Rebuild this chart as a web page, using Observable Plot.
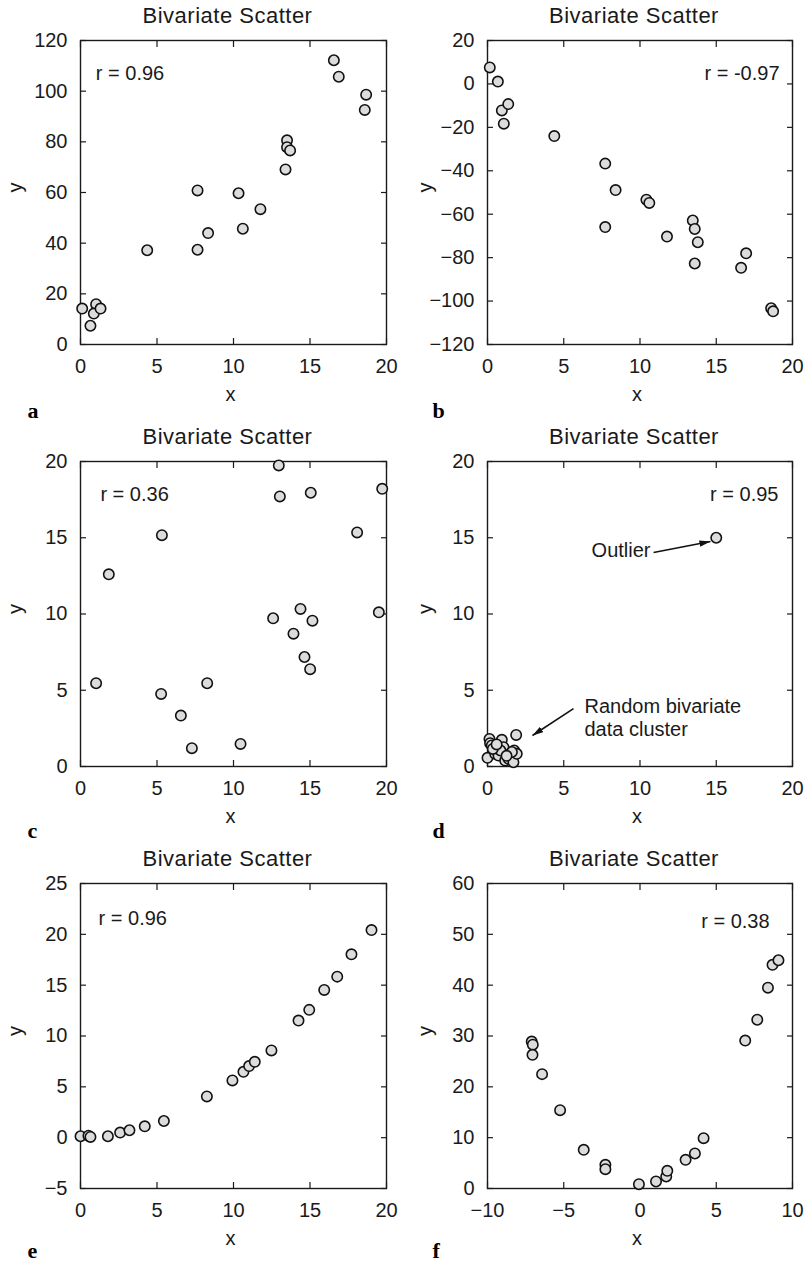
<!DOCTYPE html>
<html><head><meta charset="utf-8">
<script src="https://cdn.jsdelivr.net/npm/d3@7"></script>
<script src="https://cdn.jsdelivr.net/npm/@observablehq/plot@0.6"></script>
<style>
body{margin:0;background:#fff;}
#wrap{position:relative;width:807px;height:1264px;overflow:hidden;}
.panel{position:absolute;}
</style></head><body><div id="wrap"></div>
<script>
// ---- data ----
const titleText = "Bivariate Scatter";
const panelLetters = ["a", "b", "c", "d", "e", "f"];
const rLabels = ["r = 0.96", "r = -0.97", "r = 0.36", "r = 0.95", "r = 0.96", "r = 0.38"];

const aX = [0.11, 0.65, 1.02, 0.87, 1.31, 4.36, 7.65, 7.65, 8.34, 10.33, 10.61, 11.76, 13.4, 13.5, 13.5, 13.7, 16.56, 16.88, 18.67, 18.58];
const aY = [14.2, 7.4, 15.9, 12.2, 14.2, 37.2, 60.8, 37.4, 44.0, 59.7, 45.7, 53.4, 69.1, 80.6, 77.9, 76.6, 112.2, 105.7, 98.6, 92.6];

const bX = [0.15, 0.68, 0.94, 1.36, 1.07, 4.38, 7.72, 8.40, 7.72, 10.42, 10.61, 11.77, 13.46, 13.59, 13.79, 13.59, 16.63, 16.96, 18.6, 18.73];
const bY = [7.6, 1.1, -12.2, -9.3, -18.3, -24.0, -36.7, -48.9, -65.9, -53.3, -54.8, -70.3, -62.9, -66.8, -72.9, -82.7, -84.7, -78.0, -103.3, -104.7];

const cX = [1.02, 1.85, 5.32, 5.27, 6.56, 7.28, 8.28, 10.46, 12.59, 12.96, 13.03, 13.92, 14.38, 14.64, 15.01, 15.16, 15.05, 18.08, 19.72, 19.50];
const cY = [5.46, 12.6, 15.17, 4.76, 3.34, 1.20, 5.46, 1.48, 9.72, 19.74, 17.71, 8.71, 10.33, 7.18, 6.38, 9.56, 17.95, 15.35, 18.21, 10.11];

const dX = [0.0, 0.13, 0.17, 0.28, 0.5, 0.72, 0.94, 1.05, 0.85, 1.16, 1.38, 1.49, 1.7, 1.75, 1.92, 1.88, 0.35, 1.6, 1.25, 0.6, 15];
const dY = [0.57, 1.81, 1.53, 1.38, 0.83, 0.72, 1.75, 1.27, 1.05, 0.39, 0.5, 0.83, 0.28, 1.05, 0.83, 2.07, 1.15, 0.95, 0.7, 1.45, 15];

const eX = [0, 0.52, 0.65, 1.79, 2.59, 3.2, 4.2, 5.45, 8.26, 9.93, 10.65, 11.02, 11.39, 12.48, 14.25, 14.95, 15.93, 16.78, 17.71, 19.02];
const eY = [0.14, 0.2, 0.07, 0.14, 0.5, 0.73, 1.12, 1.64, 4.06, 5.63, 6.48, 7.04, 7.46, 8.58, 11.52, 12.57, 14.53, 15.84, 18.03, 20.42];

const fX = [-7.10, -7.03, -7.05, -6.42, -5.24, -3.69, -2.27, -2.27, -0.07, 1.05, 1.72, 1.79, 2.99, 3.60, 4.17, 6.90, 7.69, 8.39, 8.69, 9.08];
const fY = [28.9, 28.3, 26.3, 22.5, 15.4, 7.6, 4.66, 3.8, 0.85, 1.38, 2.36, 3.48, 5.64, 6.89, 9.9, 29.1, 33.2, 39.5, 44.0, 44.9];

const xTicks20 = [0, 5, 10, 15, 20];
const xTicksF = [-10, -5, 0, 5, 10];
const yTicksA = [0, 20, 40, 60, 80, 100, 120];
const yTicksB = [-120, -100, -80, -60, -40, -20, 0, 20];
const yTicksC = [0, 5, 10, 15, 20];
const yTicksE = [-5, 0, 5, 10, 15, 20, 25];
const yTicksF = [0, 10, 20, 30, 40, 50, 60];

// annotation anchors (data coords) for the r labels
const rPos = [[1.0, 104.6, "start"], [19.15, 2.0, "end"], [1.3, 17.44, "start"], [19.08, 17.44, "end"], [1.18, 20.87, "start"], [8.5, 51.3, "end"]];

// panel d annotations
const outlierLabel = "Outlier";
const clusterLabel = "Random bivariate\ndata cluster";
const dArrows = [
  {x1: 10.89, y1: 14.03, x2: 14.62, y2: 14.75},
  {x1: 5.64, y1: 3.8, x2: 2.95, y2: 2.03}
];

// ---- layout ----
const COLS = [
  {left: 0, width: 400, ml: 80, mr: 14, ldx: -53, ydx: -65},
  {left: 400, width: 407, ml: 87, mr: 15, ldx: -55, ydx: -62}
];
const ROWS = [
  {top: 0, height: 420, mt: 40, mb: 76, ldy: 73},
  {top: 420, height: 420, mt: 41, mb: 74, ldy: 71},
  {top: 840, height: 424, mt: 43, mb: 76, ldy: 69}
];

const FONT = "'Liberation Sans', Arial, Helvetica, sans-serif";
const INK = "#1a1a1a";

// filled arrowhead marker
function filledArrow(color, context) {
  const doc = (context && context.document) || document;
  const NS = "http://www.w3.org/2000/svg";
  const m = doc.createElementNS(NS, "marker");
  m.setAttribute("viewBox", "-11 -3.5 11 7");
  m.setAttribute("markerWidth", 11);
  m.setAttribute("markerHeight", 7);
  m.setAttribute("markerUnits", "userSpaceOnUse");
  m.setAttribute("orient", "auto");
  m.setAttribute("refX", 0);
  m.setAttribute("refY", 0);
  const p = doc.createElementNS(NS, "path");
  p.setAttribute("d", "M-11,-3.2L0,0L-11,3.2Z");
  p.setAttribute("fill", "#111");
  p.setAttribute("stroke", "none");
  m.appendChild(p);
  return m;
}
function arrowMark() {
  try {
    return Plot.link(dArrows, {x1: "x1", y1: "y1", x2: "x2", y2: "y2", stroke: "#111", strokeWidth: 1.6, markerEnd: filledArrow});
  } catch (e) {
    return Plot.arrow(dArrows, {x1: "x1", y1: "y1", x2: "x2", y2: "y2", stroke: "#111", strokeWidth: 1.6, headLength: 11, headAngle: 32});
  }
}

function panel(i, xs, ys, xDomain, yDomain, xTicks, yTicks, extra = []) {
  const C = COLS[i % 2], R = ROWS[Math.floor(i / 2)];
  const pts = xs.map((x, k) => ({x, y: ys[k]}));
  const [rx, ry, ra] = rPos[i];
  const plot = Plot.plot({
    width: C.width, height: R.height,
    marginLeft: C.ml, marginRight: C.mr, marginTop: R.mt, marginBottom: R.mb,
    style: {fontFamily: FONT, fontSize: "20px", color: INK, background: "transparent", overflow: "visible"},
    x: {domain: xDomain, label: null},
    y: {domain: yDomain, label: null},
    marks: [
      Plot.axisX(xTicks, {anchor: "bottom", tickSize: -6, tickPadding: 20, label: null, strokeWidth: 1.2}),
      Plot.axisX(xTicks, {anchor: "top", tickSize: -6, tickFormat: () => "", label: null, strokeWidth: 1.2}),
      Plot.axisY(yTicks, {anchor: "left", tickSize: -6, tickPadding: 19, label: null, strokeWidth: 1.2}),
      Plot.axisY(yTicks, {anchor: "right", tickSize: -6, tickFormat: () => "", label: null, strokeWidth: 1.2}),
      Plot.frame({stroke: INK, strokeWidth: 1.4}),
      ...extra,
      Plot.dot(pts, {x: "x", y: "y", r: 5.2, fill: "#dcdcdc", stroke: "#111", strokeWidth: 1.6}),
      Plot.text([{x: rx, y: ry, t: rLabels[i]}], {x: "x", y: "y", text: "t", textAnchor: ra, lineAnchor: "bottom", fill: INK}),
      Plot.text([titleText], {frameAnchor: "top", dx: -6, dy: -18, lineAnchor: "bottom", fontSize: 22, fill: INK}),
      Plot.text(["x"], {frameAnchor: "bottom", dx: -3, dy: 56, lineAnchor: "bottom", fill: INK}),
      Plot.text(["y"], {frameAnchor: "left", dx: C.ydx, rotate: -90, lineAnchor: "middle", fill: INK}),
      Plot.text([panelLetters[i]], {frameAnchor: "bottom-left", dx: C.ldx, dy: R.ldy, lineAnchor: "bottom", textAnchor: "start",
        fontFamily: "'Liberation Serif', 'Times New Roman', serif", fontWeight: "bold", fontSize: 22, fill: "#000"})
    ]
  });
  const div = document.createElement("div");
  div.className = "panel";
  div.style.left = C.left + "px";
  div.style.top = R.top + "px";
  div.appendChild(plot);
  document.getElementById("wrap").appendChild(div);
  d3.select(plot).selectAll("text").filter(function () { return this.textContent === titleText; })
    .style("letter-spacing", "0.5px");
}

panel(0, aX, aY, [0, 20], [0, 120], xTicks20, yTicksA);
panel(1, bX, bY, [0, 20], [-120, 20], xTicks20, yTicksB);
panel(2, cX, cY, [0, 20], [0, 20], xTicks20, yTicksC);
panel(3, dX, dY, [0, 20], [0, 20], xTicks20, yTicksC, [
  arrowMark(),
  Plot.text([{x: 10.69, y: 13.77, t: outlierLabel}], {x: "x", y: "y", text: "t", textAnchor: "end", lineAnchor: "bottom", fill: INK}),
  Plot.text([{x: 6.36, y: 2.03, t: clusterLabel}], {x: "x", y: "y", text: "t", textAnchor: "start", lineAnchor: "bottom", lineHeight: 1.15, fill: INK})
]);
panel(4, eX, eY, [0, 20], [-5, 25], xTicks20, yTicksE);
panel(5, fX, fY, [-10, 10], [0, 60], xTicksF, yTicksF);
</script>
</body></html>
